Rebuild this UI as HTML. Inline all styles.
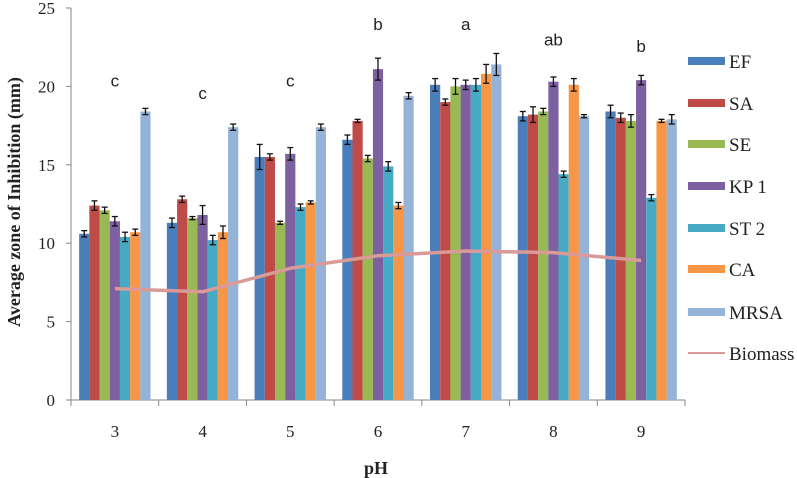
<!DOCTYPE html>
<html><head><meta charset="utf-8"><style>
body{margin:0;background:#fff;}
svg{display:block;font-family:"Liberation Serif",serif;}
</style></head><body>
<svg id="chart" width="797" height="478" viewBox="0 0 797 478" xmlns="http://www.w3.org/2000/svg"></svg>
<script>
const categories=["3","4","5","6","7","8","9"];
const seriesNames=["EF","SA","SE","KP 1","ST 2","CA","MRSA"];
const colors=["#4a7ebb","#be4b48","#98b954","#7d60a0","#46aac5","#f79646","#95b3d7"];
const EF=[10.6,11.3,15.5,16.6,20.1,18.1,18.4];
const SA=[12.4,12.8,15.5,17.8,19.0,18.2,18.0];
const SE=[12.1,11.6,11.3,15.4,20.0,18.4,17.8];
const KP1=[11.4,11.8,15.7,21.1,20.1,20.3,20.4];
const ST2=[10.4,10.2,12.3,14.9,20.1,14.4,12.9];
const CA=[10.7,10.7,12.6,12.4,20.8,20.1,17.8];
const MRSA=[18.4,17.4,17.4,19.4,21.4,18.1,17.9];
const errEF=[0.2,0.3,0.8,0.3,0.4,0.3,0.4];
const errSA=[0.3,0.2,0.2,0.1,0.2,0.5,0.3];
const errSE=[0.2,0.1,0.1,0.2,0.5,0.2,0.4];
const errKP1=[0.3,0.6,0.4,0.7,0.3,0.3,0.3];
const errST2=[0.3,0.3,0.2,0.3,0.4,0.2,0.2];
const errCA=[0.2,0.4,0.1,0.2,0.6,0.4,0.1];
const errMRSA=[0.2,0.2,0.2,0.2,0.7,0.1,0.3];
const biomass=[7.1,6.9,8.4,9.2,9.5,9.4,8.9];
const letters=["c","c","c","b","a","ab","b"];
const letterY=[20.0,19.2,20.0,23.6,23.6,22.6,22.2];
const yTicks=[0,5,10,15,20,25];

const S=[EF,SA,SE,KP1,ST2,CA,MRSA];
const E=[errEF,errSA,errSE,errKP1,errST2,errCA,errMRSA];
const svg=document.getElementById('chart');
const NS="http://www.w3.org/2000/svg";
const X0=71,X1=685,Y0=400,YTOP=8;
const gw=(X1-X0)/categories.length, bw=10.2, pad=(gw-7*bw)/2;
const y=v=>Y0-(v/25)*(Y0-YTOP);
const gx=i=>X0+i*gw;
function mk(t,a,p){const e=document.createElementNS(NS,t);for(const k in a)e.setAttribute(k,a[k]);(p||svg).appendChild(e);return e;}

let ax=mk('line',{x1:X0,y1:YTOP,x2:X0,y2:Y0,stroke:'#868686','stroke-width':1});


let bx=mk('line',{x1:X0,y1:Y0,x2:X1,y2:Y0,stroke:'#868686','stroke-width':1});


yTicks.forEach(t=>{
  mk('line',{x1:X0-5,y1:y(t),x2:X0,y2:y(t),stroke:'#868686'});
  const tx=mk('text',{x:X0-16,y:y(t)+6,'text-anchor':'end','font-size':17,fill:'#222'});
  tx.textContent=t;
  
  
});
for(let i=0;i<=categories.length;i++) mk('line',{x1:gx(i),y1:Y0,x2:gx(i),y2:Y0+6,stroke:'#868686'});
categories.forEach((c,i)=>{
  const tx=mk('text',{x:gx(i)+gw/2,y:437,'text-anchor':'middle','font-size':17,fill:'#222'});
  tx.textContent=c;
  
  
});
S.forEach((arr,s)=>{
  arr.forEach((v,i)=>{
    const x=gx(i)+pad+s*bw;
    const r=mk('rect',{x:x,y:y(v),width:bw,height:Y0-y(v),fill:colors[s]});
    
    
    const cx=x+bw/2,e=E[s][i];
    const g=mk('g',{stroke:'#111','stroke-width':1.3});
    
    
    mk('line',{x1:cx,y1:y(v+e),x2:cx,y2:y(v-e)},g);
    mk('line',{x1:cx-3,y1:y(v+e),x2:cx+3,y2:y(v+e)},g);
    mk('line',{x1:cx-3,y1:y(v-e),x2:cx+3,y2:y(v-e)},g);
  });
});
const pts=biomass.map((v,i)=>(gx(i)+gw/2)+','+y(v)).join(' ');
const pl=mk('polyline',{points:pts,fill:'none',stroke:'#d99a98','stroke-width':3.5,'stroke-linejoin':'round'});


letters.forEach((l,i)=>{
  const tx=mk('text',{x:gx(i)+gw/2,y:y(letterY[i]),'text-anchor':'middle','font-size':17,'font-family':'Liberation Sans, sans-serif',fill:'#222'});
  tx.textContent=l;
  
  
});
const legY=[61,103,144,186,228,269,312];
seriesNames.forEach((n,s)=>{
  const g=mk('g',{});
  
  
  mk('rect',{x:688,y:legY[s]-4,width:37,height:8,fill:colors[s]},g);
  const tx=mk('text',{x:729,y:legY[s]+7,'font-size':19,fill:'#222',textLength:n.length>3?undefined:undefined},g);
  tx.removeAttribute('textLength');
  tx.textContent=n;
});
const lg=mk('g',{});


mk('line',{x1:688,y1:353,x2:725,y2:353,stroke:'#d99a98','stroke-width':2},lg);
const bt=mk('text',{x:729,y:360,'font-size':19,fill:'#222'},lg);bt.textContent="Biomass";
const yt=mk('text',{x:0,y:0,transform:'translate(20,202) rotate(-90)','text-anchor':'middle','font-size':18,'font-weight':'bold',fill:'#222'});
yt.textContent="Average zone of Inhibition (mm)";


const xt=mk('text',{x:376,y:474,'text-anchor':'middle','font-size':18,'font-weight':'bold',fill:'#222'});
xt.textContent="pH";


</script>
</body></html>
